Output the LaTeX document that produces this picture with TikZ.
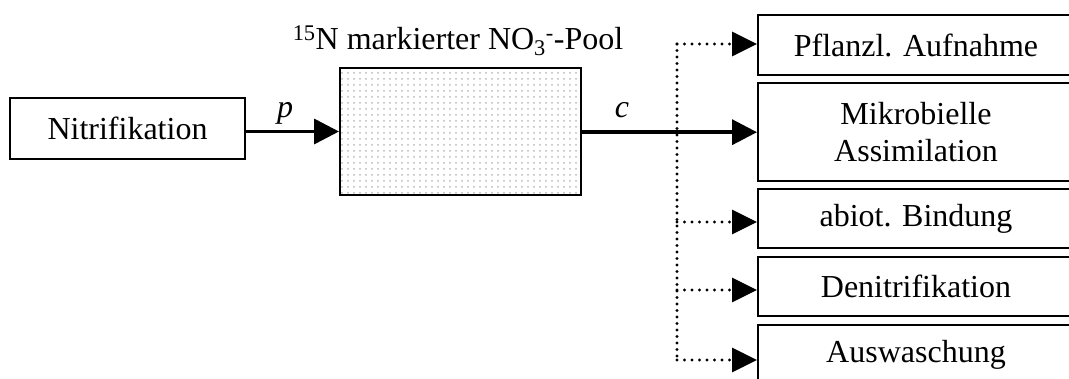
\documentclass[tikz,border=0pt]{standalone}
\usepackage{fontspec}
\setmainfont{Liberation Serif}
\usetikzlibrary{arrows.meta,patterns.meta}
\begin{document}
\begin{tikzpicture}[x=1pt,y=-1pt,
  font=\fontsize{32}{37}\selectfont,
  box/.style={draw,line width=2pt,rectangle,inner sep=0pt,align=center},
  solidarrow/.style={line width=3.6pt,-{Triangle[length=25pt,width=25pt]}},
  dotarrow/.style={line width=3.4pt,line cap=round,dash pattern=on 0pt off 7.5pt,-{Triangle[length=25pt,width=24pt]}},
  dotline/.style={line width=3.4pt,line cap=round,dash pattern=on 0pt off 6.5pt}]
\useasboundingbox (0,0) rectangle (1069,379);
\clip (0,0) rectangle (1069,379);
\node[box,minimum width=235pt,minimum height=61pt] (nitri) at (127.5,128.8) {Nitrifikation};
\node[box,minimum width=241pt,minimum height=127.5pt,fill=white,pattern={Dots[distance=6pt,radius=1pt]},pattern color=gray!55] (pool) at (460.5,131.5) {};
\node[box,minimum width=241pt,minimum height=127.5pt] (poolframe) at (460.5,131.5) {};
\node (title) at (458,41) {\textsuperscript{15}N markierter NO\textsubscript{3}\textsuperscript{-}-Pool};
\node[box,minimum width=316pt,minimum height=60pt] (pfl) at (916,45) {Pflanzl. Aufnahme};
\node[box,minimum width=316pt,minimum height=98pt] (mik) at (916,132.2) {Mikrobielle\\Assimilation};
\node[box,minimum width=316pt,minimum height=59pt] (abi) at (916,218.8) {abiot. Bindung};
\node[box,minimum width=316pt,minimum height=59pt] (den) at (916,286.5) {Denitrifikation};
\node[box,minimum width=316pt,minimum height=60pt] (aus) at (916,355) {Auswaschung};
\node (p) at (285,113) {\textit{p}};
\node (c) at (622,110) {\textit{c}};
\coordinate (d1) at (677,44);
\coordinate (d3) at (677,222);
\coordinate (d4) at (677,290);
\coordinate (d5) at (677,360);
\draw[solidarrow] (nitri.east |- pool.west) -- (pool.west);
\draw[solidarrow] (pool.east |- mik.west) -- (mik.west);
\draw[dotline] (d1) -- (d5);
\draw[dotarrow] (d1) -- (pfl.west |- d1);
\draw[dotarrow] (d3) -- (abi.west |- d3);
\draw[dotarrow] (d4) -- (den.west |- d4);
\draw[dotarrow] (d5) -- (aus.west |- d5);
\end{tikzpicture}
\end{document}
